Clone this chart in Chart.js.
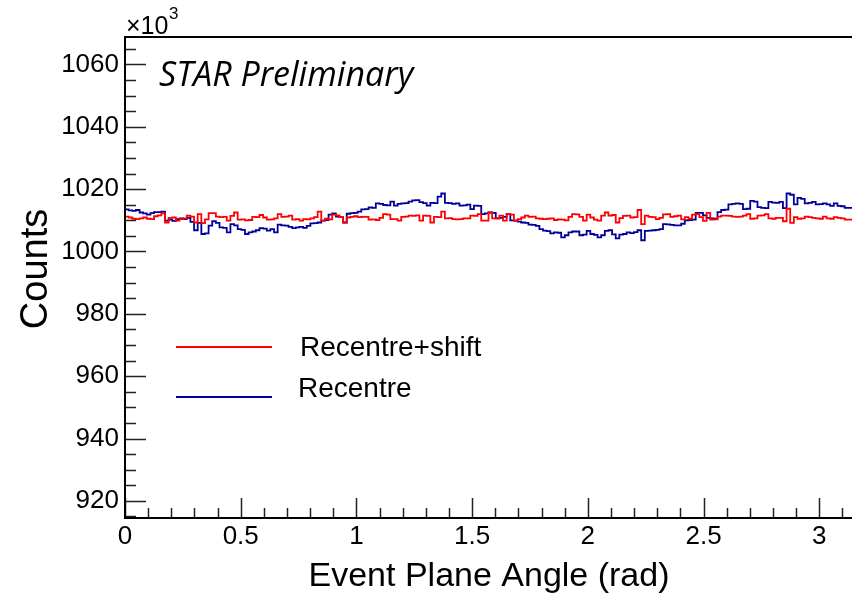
<!DOCTYPE html>
<html>
<head>
<meta charset="utf-8">
<script src="https://cdn.jsdelivr.net/npm/chart.js@4.4.1/dist/chart.umd.min.js"></script>
<style>
  html, body { margin: 0; padding: 0; background: #fff; }
</style>
</head>
<body>
<canvas id="epChart" width="852" height="595"></canvas>
<script>
// Event plane angle histograms, counts in units of 10^3, 200 bins over [0, pi]
const xMin = 0;
const xMax = Math.PI;

const recentreShift = [
  1011.7, 1011.2, 1010.9, 1010.5, 1010.4, 1010.6, 1010.9, 1010.5, 1010.4, 1011.3, 1011.6, 1012.2, 1009.3, 1010.8, 1010.9, 1009.9, 1010.4, 1010.6, 1011.5, 1011.2, 1009.3, 1012.0, 1009.1, 1010.3, 1012.3,
  1012.3, 1011.2, 1011.0, 1011.1, 1009.9, 1011.4, 1012.5, 1010.2, 1010.3, 1010.0, 1010.1, 1011.1, 1011.0, 1011.7, 1010.9, 1010.2, 1010.3, 1010.6, 1012.0, 1011.1, 1011.2, 1011.5, 1010.2, 1010.4, 1009.9,
  1010.4, 1010.3, 1010.6, 1011.0, 1012.8, 1009.9, 1010.5, 1010.3, 1011.8, 1011.6, 1011.0, 1009.3, 1010.9, 1011.1, 1011.3, 1011.0, 1011.1, 1011.1, 1010.2, 1010.3, 1010.1, 1010.8, 1012.0, 1011.8, 1010.4,
  1010.4, 1009.9, 1011.1, 1011.2, 1011.5, 1011.4, 1011.6, 1009.9, 1011.5, 1011.4, 1009.3, 1011.1, 1011.0, 1012.8, 1010.6, 1010.7, 1010.4, 1010.3, 1010.4, 1010.6, 1010.6, 1011.5, 1011.4, 1012.0, 1009.9,
  1009.9, 1012.5, 1010.6, 1010.6, 1011.5, 1009.9, 1012.0, 1011.8, 1009.9, 1010.4, 1010.9, 1011.5, 1011.1, 1011.2, 1010.6, 1010.5, 1010.4, 1010.5, 1010.6, 1010.1, 1010.3, 1010.2, 1010.0, 1011.1, 1012.0,
  1011.9, 1011.1, 1009.9, 1011.8, 1010.9, 1010.2, 1009.9, 1011.5, 1012.5, 1011.5, 1011.7, 1009.3, 1010.7, 1011.4, 1011.5, 1010.9, 1011.0, 1013.3, 1008.8, 1011.5, 1011.1, 1011.0, 1010.4, 1010.8, 1011.9,
  1012.0, 1011.1, 1011.3, 1011.5, 1010.3, 1011.0, 1010.5, 1011.8, 1012.0, 1011.0, 1009.8, 1012.4, 1010.2, 1010.3, 1011.2, 1011.5, 1011.5, 1011.4, 1011.2, 1011.1, 1011.2, 1011.5, 1012.0, 1010.5, 1010.6,
  1011.5, 1011.6, 1012.0, 1010.6, 1010.5, 1010.8, 1010.8, 1009.7, 1013.7, 1009.2, 1011.0, 1010.5, 1010.6, 1011.2, 1011.0, 1010.8, 1010.6, 1010.5, 1011.2, 1010.6, 1010.5, 1011.0, 1010.8, 1010.6, 1010.2
];

const recentre = [
  1015.0, 1013.5, 1013.2, 1013.0, 1013.3, 1012.5, 1012.2, 1011.8, 1012.3, 1012.6, 1012.6, 1012.8, 1009.9, 1010.2, 1009.8, 1010.4, 1010.6, 1010.4, 1010.8, 1009.5, 1006.8, 1009.2, 1005.6, 1005.8, 1008.3,
  1009.7, 1009.2, 1007.7, 1007.6, 1006.1, 1008.8, 1008.4, 1007.2, 1006.9, 1005.6, 1006.1, 1006.4, 1006.8, 1007.5, 1007.3, 1006.7, 1007.2, 1006.1, 1008.6, 1008.4, 1008.3, 1007.9, 1007.5, 1007.7, 1007.9,
  1007.6, 1008.2, 1009.0, 1009.1, 1009.3, 1009.9, 1010.1, 1011.8, 1012.2, 1011.2, 1011.0, 1009.3, 1012.1, 1012.3, 1012.4, 1012.8, 1013.5, 1013.6, 1014.1, 1014.0, 1015.4, 1015.3, 1014.9, 1014.8, 1016.0,
  1014.7, 1015.3, 1015.4, 1015.5, 1016.0, 1016.4, 1016.5, 1015.8, 1015.5, 1014.7, 1015.6, 1015.5, 1017.6, 1018.6, 1015.6, 1015.5, 1015.3, 1015.4, 1014.7, 1014.8, 1015.0, 1013.6, 1014.7, 1014.6, 1012.0,
  1012.2, 1012.5, 1012.4, 1010.6, 1010.8, 1011.1, 1012.0, 1010.0, 1009.9, 1009.6, 1009.3, 1009.2, 1008.6, 1008.5, 1008.2, 1007.2, 1006.7, 1006.5, 1005.8, 1006.1, 1006.0, 1004.5, 1005.2, 1006.1, 1006.4,
  1006.4, 1005.2, 1005.4, 1006.6, 1005.6, 1005.3, 1004.5, 1005.2, 1006.6, 1006.8, 1005.5, 1004.2, 1005.4, 1005.6, 1006.1, 1005.9, 1006.2, 1006.8, 1003.6, 1006.6, 1006.7, 1006.8, 1006.9, 1007.2, 1008.8,
  1008.7, 1008.5, 1008.4, 1008.4, 1008.9, 1010.0, 1010.1, 1010.2, 1012.4, 1012.4, 1011.6, 1010.8, 1010.6, 1010.5, 1012.6, 1013.3, 1013.4, 1015.1, 1015.3, 1015.4, 1015.3, 1013.6, 1013.7, 1016.2, 1016.0,
  1014.2, 1014.0, 1013.9, 1015.9, 1015.7, 1015.6, 1015.9, 1013.9, 1018.6, 1018.2, 1015.1, 1017.2, 1016.9, 1015.4, 1015.6, 1015.9, 1015.1, 1015.2, 1015.4, 1015.1, 1014.6, 1015.4, 1014.6, 1014.5, 1014.0
];

const xTicks = [0, 0.5, 1, 1.5, 2, 2.5, 3];
const yTicks = [920, 940, 960, 980, 1000, 1020, 1040, 1060];
const yMin = 914.5;
const yMax = 1068.8;

// one point per bin low edge, plus the upper edge so the last bin keeps its width
function histPoints(values) {
  const w = (xMax - xMin) / values.length;
  const pts = values.map((v, i) => ({ x: xMin + i * w, y: v }));
  pts.push({ x: xMax, y: values[values.length - 1] });
  return pts;
}

const FONT = '"Liberation Sans", Arial, Helvetica, sans-serif';

// ROOT-like frame: inward ticks, axis lines, titles and legend
const rootFrame = {
  id: 'rootFrame',
  afterDatasetsDraw(chart) {
    const ctx = chart.ctx;
    const { left, right, top, bottom } = chart.chartArea;
    const sx = chart.scales.x, sy = chart.scales.y;
    ctx.save();

    // minor/major ticks
    ctx.strokeStyle = '#222';
    ctx.lineWidth = 1.5;
    ctx.beginPath();
    for (let k = 0; k <= 31; k++) {
      const px = Math.round(sx.getPixelForValue(k / 10)) + 0.5;
      const len = k % 5 === 0 ? 20 : 10;
      ctx.moveTo(px, bottom);
      ctx.lineTo(px, bottom - len);
    }
    for (let v = Math.ceil(yMin / 5) * 5; v <= yMax; v += 5) {
      const py = Math.round(sy.getPixelForValue(v)) + 0.5;
      const len = v % 20 === 0 ? 21 : 11;
      ctx.moveTo(left, py);
      ctx.lineTo(left + len, py);
    }
    ctx.stroke();

    // frame
    ctx.strokeStyle = '#000';
    ctx.lineWidth = 2;
    ctx.beginPath();
    ctx.moveTo(right, top);
    ctx.lineTo(left, top);
    ctx.lineTo(left, bottom);
    ctx.lineTo(right, bottom);
    ctx.stroke();

    ctx.fillStyle = '#000';
    ctx.textBaseline = 'alphabetic';

    // exponent
    ctx.textAlign = 'left';
    ctx.font = '25px ' + FONT;
    ctx.fillText('\u00d710', 126, 34);
    ctx.font = '17px ' + FONT;
    ctx.fillText('3', 169, 19);

    // label
    ctx.font = 'italic 34px "Open Sans", sans-serif';
    ctx.fillText('STAR Preliminary', 159, 86);

    // legend
    ctx.lineWidth = 2;
    ctx.strokeStyle = '#ff0000';
    ctx.beginPath();
    ctx.moveTo(176, 347);
    ctx.lineTo(272, 347);
    ctx.stroke();
    ctx.strokeStyle = '#000099';
    ctx.beginPath();
    ctx.moveTo(176, 397);
    ctx.lineTo(272, 397);
    ctx.stroke();
    ctx.font = '28px ' + FONT;
    ctx.fillText('Recentre+shift', 300, 356);
    ctx.fillText('Recentre', 298, 397);

    // axis titles
    ctx.textAlign = 'center';
    ctx.font = '34px ' + FONT;
    ctx.fillText('Event Plane Angle (rad)', 489, 586);
    ctx.save();
    ctx.translate(47, 269);
    ctx.rotate(-Math.PI / 2);
    ctx.font = '38px ' + FONT;
    ctx.fillText('Counts', 0, 0);
    ctx.restore();

    ctx.restore();
  }
};

new Chart(document.getElementById('epChart'), {
  type: 'line',
  data: {
    datasets: [
      {
        label: 'Recentre+shift',
        data: histPoints(recentreShift),
        borderColor: '#ff0000',
        borderWidth: 1.8,
        stepped: 'after',
        pointRadius: 0,
        fill: false
      },
      {
        label: 'Recentre',
        data: histPoints(recentre),
        borderColor: '#000099',
        borderWidth: 1.8,
        stepped: 'after',
        pointRadius: 0,
        fill: false
      }
    ]
  },
  options: {
    responsive: false,
    animation: false,
    layout: { padding: { top: 37, right: 0, left: 0, bottom: 0 } },
    plugins: { legend: { display: false }, tooltip: { enabled: false } },
    scales: {
      x: {
        type: 'linear',
        min: xMin,
        max: xMax,
        grid: { display: false, drawTicks: false },
        border: { display: false },
        afterBuildTicks: s => { s.ticks = xTicks.map(v => ({ value: v })); },
        afterFit: s => { s.height = 77; },
        ticks: {
          autoSkip: false,
          maxRotation: 0,
          padding: 3,
          color: '#000',
          font: { family: FONT, size: 26 },
          callback: v => String(v)
        }
      },
      y: {
        type: 'linear',
        min: yMin,
        max: yMax,
        grid: { display: false, drawTicks: false },
        border: { display: false },
        afterBuildTicks: s => { s.ticks = yTicks.map(v => ({ value: v })); },
        afterFit: s => { s.width = 125; },
        ticks: {
          autoSkip: false,
          padding: 6,
          color: '#000',
          font: { family: FONT, size: 26 },
          callback: v => String(v)
        }
      }
    }
  },
  plugins: [rootFrame]
});
</script>
</body>
</html>
